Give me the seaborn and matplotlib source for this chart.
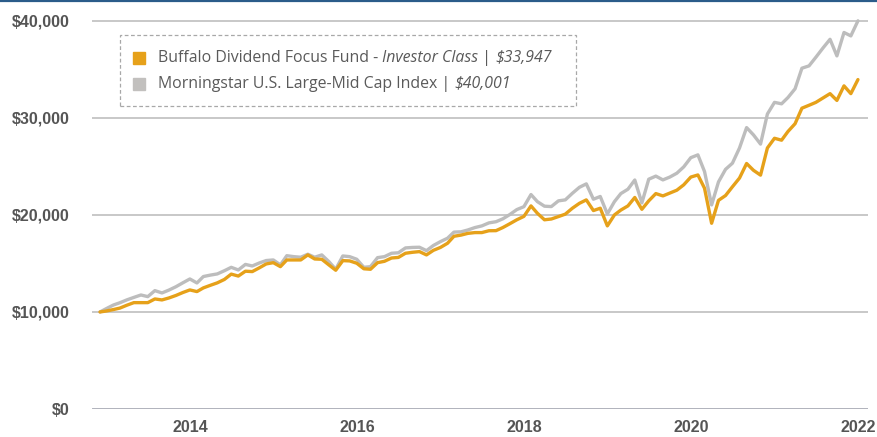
import numpy as np
import pandas as pd
import seaborn as sns
import matplotlib.pyplot as plt
import matplotlib.dates as mdates
from matplotlib.lines import Line2D
from matplotlib.patches import Rectangle

# ===== 数据 (每月末, 起始 2012-12-03 = $10,000) =====
start_date = "2012-12-03"
month_ends = pd.date_range("2012-12-31", "2021-12-31", freq="ME")

fund_values = [
    10000,
    10100, 10250, 10400, 10700, 10960, 10960, 10960, 11340, 11240, 11440, 11700, 12000,
    12270, 12100, 12480, 12750, 13000, 13350, 13900, 13700, 14200, 14160, 14550, 14950,
    15080, 14670, 15360, 15360, 15360, 15880, 15460, 15430, 14850, 14300, 15290, 15260,
    15020, 14450, 14400, 15080, 15220, 15560, 15620, 16050, 16150, 16220, 15880, 16350,
    16650, 17080, 17800, 17920, 18100, 18180, 18180, 18370, 18380, 18700, 19100, 19500,
    19850, 20930, 20170, 19500, 19580, 19830, 20080, 20690, 21200, 21550, 20450, 20690,
    18870, 20000, 20500, 20930, 21800, 20580, 21450, 22200, 21960, 22250, 22550, 23100,
    23900, 24120, 22750, 19140, 21500, 22000, 22900, 23800, 25300, 24600, 24100, 26900,
    27900, 27700, 28600, 29400, 31000, 31300, 31600, 32050, 32500, 31800, 33300, 32500,
    33947,
]
index_values = [
    10000,
    10350, 10720, 10950, 11250, 11500, 11750, 11580, 12200, 11960, 12250, 12600, 13000,
    13400, 12990, 13650, 13800, 13920, 14250, 14600, 14330, 14900, 14740, 15050, 15300,
    15360, 14850, 15800, 15700, 15640, 15950, 15640, 15880, 15190, 14400, 15770, 15700,
    15430, 14600, 14670, 15600, 15700, 16050, 16100, 16600, 16650, 16670, 16320, 16850,
    17250, 17600, 18230, 18260, 18450, 18700, 18870, 19180, 19300, 19600, 20050, 20550,
    20850, 22100, 21370, 20900, 20860, 21450, 21550, 22230, 22850, 23200, 21620, 21900,
    20100, 21370, 22200, 22650, 23600, 21240, 23680, 24000, 23610, 23900, 24300, 24950,
    25900, 26190, 24470, 21030, 23400, 24700, 25330, 26900, 29000, 28250, 27300, 30400,
    31600, 31450, 32100, 33000, 35120, 35360, 36250, 37200, 38100, 36390, 38800, 38450,
    40001,
]

fund_name = "Buffalo Dividend Focus Fund"
index_name = "Morningstar U.S. Large-Mid Cap Index"
# 图例文字分段: (文字, 是否斜体)
fund_legend = [("Buffalo Dividend Focus Fund - ", False), ("Investor Class", True),
               (" | ", False), ("$33,947", True)]
index_legend = [("Morningstar U.S. Large-Mid Cap Index | ", False), ("$40,001", True)]

y_ticks = [0, 10000, 20000, 30000, 40000]
x_tick_years = [2014, 2016, 2018, 2020, 2022]

ORANGE = "#E6A11A"
GRAY = "#BDBDBD"

dates = pd.DatetimeIndex([pd.Timestamp(start_date)]).append(month_ends)
df = pd.concat([
    pd.DataFrame({"date": dates, "value": fund_values, "series": fund_name}),
    pd.DataFrame({"date": dates, "value": index_values, "series": index_name}),
])

# ===== 样式 =====
sns.set_style("white")
plt.rcParams["font.family"] = ["Liberation Sans", "DejaVu Sans"]

W, H = 878, 437
fig = plt.figure(figsize=(W / 100, H / 100), dpi=100)
ax = fig.add_axes([92 / W, 28 / H, 776 / W, 393 / H])

for y in y_ticks:
    ax.axhline(y, color="#A9ABB6" if y == 0 else "#C4C4C4",
               lw=2.0 if y == 0 else 1.3, zorder=1)

sns.lineplot(data=df, x="date", y="value", hue="series",
             hue_order=[index_name, fund_name],
             palette={fund_name: ORANGE, index_name: GRAY},
             linewidth=2.4, legend=False, ax=ax, zorder=3)

x0 = mdates.date2num(pd.Timestamp("2012-10-29"))
x1 = mdates.date2num(pd.Timestamp("2022-02-13"))
ax.set_xlim(x0, x1)
ax.set_ylim(0, 40500)

ax.set_yticks(y_ticks)
ax.set_yticklabels([f"${v:,.0f}" for v in y_ticks])
ax.set_xticks([mdates.date2num(pd.Timestamp(f"{yr}-01-01")) for yr in x_tick_years])
ax.set_xticklabels([str(yr) for yr in x_tick_years])
ax.tick_params(axis="y", length=0, pad=16, labelsize=11.5, labelcolor="#555555")
ax.tick_params(axis="x", length=0, pad=8, labelsize=11.5, labelcolor="#555555")
for lbl in ax.get_xticklabels() + ax.get_yticklabels():
    lbl.set_fontweight("bold")
ax.set_xlabel("")
ax.set_ylabel("")
sns.despine(ax=ax, left=True, bottom=True)

# ===== 图例 (虚线框 + 方块 + 分段文字) =====
fig.add_artist(Rectangle((120 / W, 1 - 106 / H), 456 / W, 71 / H,
                         transform=fig.transFigure, fill=False,
                         edgecolor="#A8A8A8", lw=0.9, linestyle=(0, (3, 2))))

text_kw = dict(family="Open Sans", size=11.4, color="#5A5A5A", ha="left")
for row_y, color, pieces in [(58, ORANGE, fund_legend), (84, "#C2C0BE", index_legend)]:
    fy = 1 - row_y / H
    fig.add_artist(Line2D([139 / W], [fy], transform=fig.transFigure,
                          marker="s", linestyle="none", markersize=8.6,
                          markerfacecolor=color, markeredgecolor=color))
    last = None
    for text, italic in pieces:
        style = "italic" if italic else "normal"
        if last is None:
            last = fig.text(158 / W, fy, text, va="center", style=style, **text_kw)
        else:
            # 接在上一段文字之后
            last = ax.annotate(text, xy=(1, 0), xycoords=last, va="bottom",
                               style=style, annotation_clip=False, **text_kw)

# 顶部蓝色细线
fig.add_artist(Line2D([0, 1], [0.998, 0.998], transform=fig.transFigure,
                      color="#2B5C8A", lw=1.6))

plt.savefig("out.png", dpi=100)
